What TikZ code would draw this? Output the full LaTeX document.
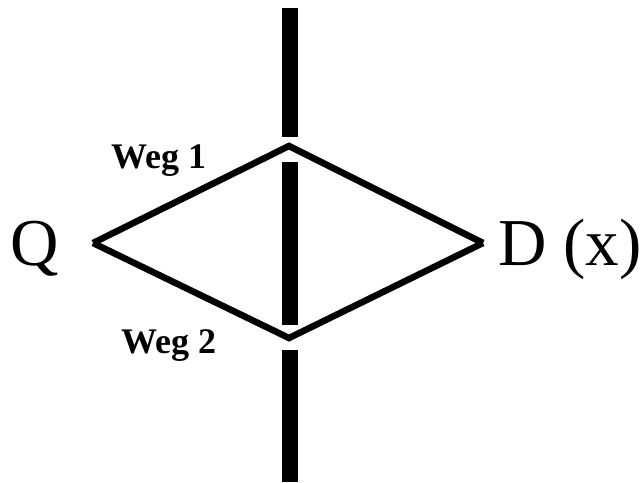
\documentclass[tikz,border=0pt]{standalone}
\usepackage{fontspec}
\setmainfont{Liberation Serif}
\tikzset{
  wall/.style={fill=black},
  path/.style={draw=black, line width=6.5pt, line join=miter},
  big/.style={font=\fontsize{67}{72}\selectfont, inner sep=0pt, anchor=base west},
  lab/.style={font=\bfseries\fontsize{36}{40}\selectfont, inner sep=0pt, anchor=base west}
}
\begin{document}
\begin{tikzpicture}[x=1pt,y=-1pt]
\useasboundingbox (0,0) rectangle (644,482);
% wall with two slits
\fill[wall] (282,8) rectangle (298,137);
\fill[wall] (282,162) rectangle (298,325);
\fill[wall] (282,350) rectangle (298,482);
% points
\coordinate (q) at (93,243);
\coordinate (s1) at (289,146);
\coordinate (s2) at (289,338);
\coordinate (d) at (483,243);
\draw[path] (q) -- (s1) -- (d);
\draw[path] (q) -- (s2) -- (d);
% labels
\node[big] (ql) at (10,265) {Q};
\node[big] (dl) at (498,265) {D (x)};
\node[lab] (w1) at (111,168) {Weg 1};
\node[lab] (w2) at (121,353) {Weg 2};
\end{tikzpicture}
\end{document}
